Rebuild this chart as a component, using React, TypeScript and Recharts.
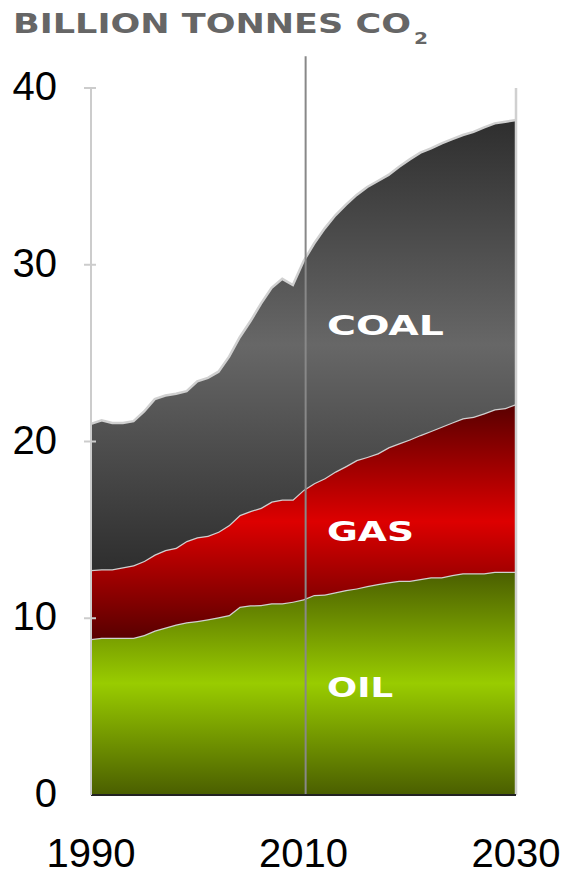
import { AreaChart, Area, XAxis, YAxis, ReferenceLine } from 'recharts';

const years = [
  1990, 1991, 1992, 1993, 1994, 1995, 1996, 1997, 1998, 1999,
  2000, 2001, 2002, 2003, 2004, 2005, 2006, 2007, 2008, 2009,
  2010, 2011, 2012, 2013, 2014, 2015, 2016, 2017, 2018, 2019,
  2020, 2021, 2022, 2023, 2024, 2025, 2026, 2027, 2028, 2029, 2030,
];

// billion tonnes CO2 per fuel (stacked: oil, gas, coal)
const oil = [
  8.83, 8.9, 8.9, 8.9, 8.9, 9.05, 9.3, 9.48, 9.64, 9.77,
  9.85, 9.94, 10.05, 10.18, 10.65, 10.73, 10.75, 10.85, 10.85, 10.94,
  11.07, 11.32, 11.35, 11.47, 11.6, 11.69, 11.82, 11.94, 12.03, 12.12,
  12.12, 12.22, 12.32, 12.32, 12.45, 12.54, 12.54, 12.54, 12.63, 12.63, 12.63,
];
const gas = [
  3.9, 3.87, 3.87, 3.98, 4.1, 4.19, 4.3, 4.38, 4.35, 4.6,
  4.73, 4.73, 4.85, 5.1, 5.19, 5.34, 5.5, 5.75, 5.87, 5.78,
  6.19, 6.32, 6.57, 6.83, 7.01, 7.26, 7.31, 7.39, 7.64, 7.78,
  8.0, 8.15, 8.28, 8.52, 8.63, 8.77, 8.86, 9.06, 9.19, 9.27, 9.49,
];
const coal = [
  8.27, 8.43, 8.28, 8.17, 8.15, 8.46, 8.8, 8.74, 8.71, 8.48,
  8.82, 8.93, 9.05, 9.52, 10.06, 10.73, 11.55, 12.1, 12.48, 12.13,
  12.94, 13.56, 14.14, 14.5, 14.79, 15.0, 15.27, 15.41, 15.41, 15.65,
  15.84, 15.97, 15.98, 16.03, 16.03, 16.03, 16.12, 16.17, 16.18, 16.19, 16.07,
];

const xTicks = [1990, 2010, 2030];
const yTicks = [0, 10, 20, 30, 40];

const data = years.map((year, i) => ({ year, oil: oil[i], gas: gas[i], coal: coal[i] }));

const tickFont = '"Liberation Sans", Arial, sans-serif';
const labelFont = '"DejaVu Sans", "Liberation Sans", sans-serif';

const YTick = (props: any) => {
  const { x, y, payload } = props;
  return (
    <g>
      <text x={57} y={y} dy={12} textAnchor="end" fontSize={40} fontFamily={tickFont} fill="#000">
        {payload.value}
      </text>
      {payload.value > 0 && <line x1={x + 1} x2={x + 13} y1={y} y2={y} stroke="#cccccc" strokeWidth={2} />}
    </g>
  );
};

const XTick = (props: any) => {
  const { x, y, payload } = props;
  return (
    <text x={x} y={y} dy={64} textAnchor="middle" fontSize={40} fontFamily={tickFont} fill="#000">
      {payload.value}
    </text>
  );
};

export default function App() {
  return (
    <div style={{ position: 'absolute', left: 0, top: 0, width: 568, height: 872, background: '#fff' }}>
      <AreaChart width={568} height={872} data={data} margin={{ top: 88, right: 52, bottom: 0, left: 0 }}>
        <defs>
          <linearGradient id="coalFill" x1="0" y1="0" x2="0" y2="1">
            <stop offset="0%" stopColor="#2e2e2e" />
            <stop offset="50%" stopColor="#676767" />
            <stop offset="100%" stopColor="#2e2e2e" />
          </linearGradient>
          <linearGradient id="gasFill" x1="0" y1="0" x2="0" y2="1">
            <stop offset="0%" stopColor="#580000" />
            <stop offset="50%" stopColor="#dd0000" />
            <stop offset="100%" stopColor="#580000" />
          </linearGradient>
          <linearGradient id="oilFill" x1="0" y1="0" x2="0" y2="1">
            <stop offset="0%" stopColor="#4a5e00" />
            <stop offset="50%" stopColor="#99cc00" />
            <stop offset="100%" stopColor="#4a5e00" />
          </linearGradient>
        </defs>
        <XAxis
          dataKey="year"
          type="number"
          domain={[1990, 2030]}
          ticks={xTicks}
          tick={<XTick />}
          tickLine={false}
          axisLine={{ stroke: '#222', strokeWidth: 2 }}
          height={77}
        />
        <YAxis
          type="number"
          domain={[0, 40]}
          ticks={yTicks}
          tick={<YTick />}
          tickLine={false}
          axisLine={{ stroke: '#cccccc', strokeWidth: 2 }}
          width={91}
        />
        <Area type="linear" dataKey="oil" stackId="co2" stroke="#d0d0d0" strokeWidth={2.5} fill="url(#oilFill)" fillOpacity={1} isAnimationActive={false} />
        <Area type="linear" dataKey="gas" stackId="co2" stroke="#d0d0d0" strokeWidth={2.5} fill="url(#gasFill)" fillOpacity={1} isAnimationActive={false} />
        <Area type="linear" dataKey="coal" stackId="co2" stroke="#d0d0d0" strokeWidth={2.5} fill="url(#coalFill)" fillOpacity={1} isAnimationActive={false} />
        <ReferenceLine x={2030} stroke="#d0d0d0" strokeWidth={2.5} segment={[{ x: 2030, y: 0 }, { x: 2030, y: 38.19 }]} />
        <ReferenceLine
          stroke="#888888"
          strokeWidth={2}
          ifOverflow="visible"
          segment={[{ x: 2010.2, y: 0 }, { x: 2010.2, y: 41.8 }]}
        />
      </AreaChart>
      <svg width={568} height={872} style={{ position: 'absolute', left: 0, top: 0, pointerEvents: 'none' }}>
        <g fontFamily={labelFont} fontWeight="bold">
          <text x={13} y={33} fontSize={27} fill="#666666" textLength={398} lengthAdjust="spacingAndGlyphs">
            BILLION TONNES CO
          </text>
          <text x={414} y={44} fontSize={15} fill="#666666" textLength={14} lengthAdjust="spacingAndGlyphs">
            2
          </text>
          <text x={327} y={335} fontSize={27} fill="#ffffff" textLength={117} lengthAdjust="spacingAndGlyphs">
            COAL
          </text>
          <text x={327} y={541} fontSize={27} fill="#ffffff" textLength={87} lengthAdjust="spacingAndGlyphs">
            GAS
          </text>
          <text x={327} y={697} fontSize={27} fill="#ffffff" textLength={66} lengthAdjust="spacingAndGlyphs">
            OIL
          </text>
        </g>
      </svg>
    </div>
  );
}
